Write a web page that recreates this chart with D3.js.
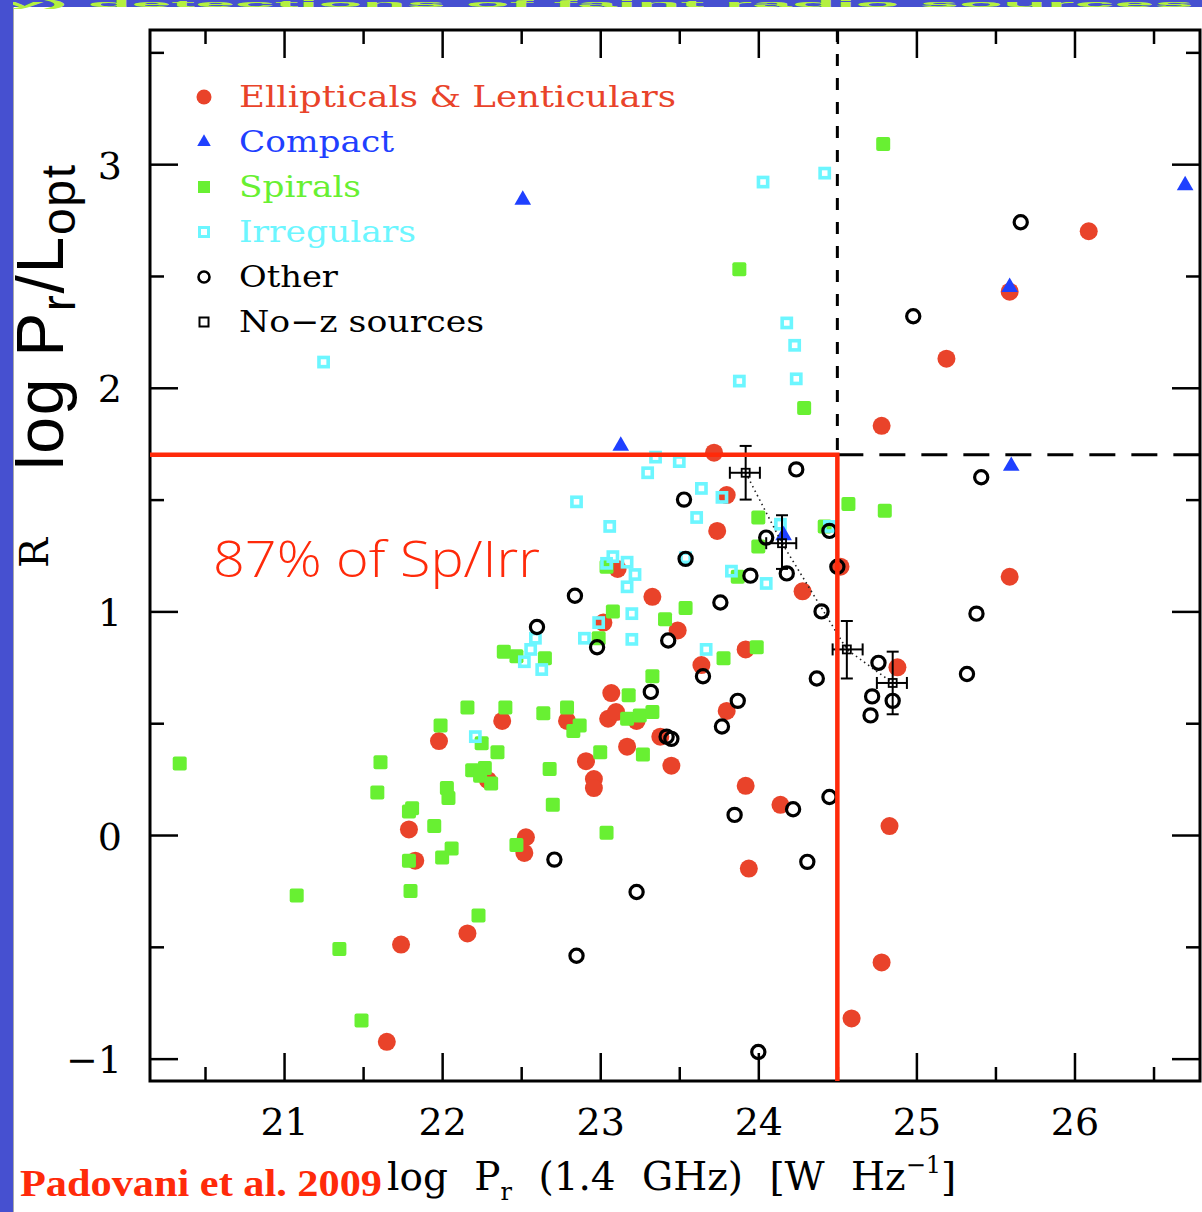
<!DOCTYPE html>
<html><head><meta charset="utf-8">
<script src="https://cdn.jsdelivr.net/npm/d3@7/dist/d3.min.js"></script>
<style>body{margin:0;background:#fff;overflow:hidden}svg{display:block}</style>
</head><body>
<svg id="chart" width="1202" height="1212"></svg>
<script>
// ---------- data ----------
const xMajorTicks = [21, 22, 23, 24, 25, 26];
const xMinorTicks = [20.5, 21.5, 22.5, 23.5, 24.5, 25.5, 26.5];
const yMajorTicks = [-1, 0, 1, 2, 3];
const yMinorTicks = [-0.5, 0.5, 1.5, 2.5, 3.5];
const legendNames = ["Ellipticals & Lenticulars", "Compact", "Spirals", "Irregulars", "Other", "No\u2212z sources"];

const ellipticals = [[26.09,2.70],[25.59,2.43],[25.19,2.13],[24.78,1.83],[23.72,1.71],[23.80,1.52],[23.74,1.36],[23.11,1.19],[24.52,1.20],[25.59,1.155],[24.28,1.09],[23.33,1.065],[23.02,0.95],[23.49,0.915],[23.92,0.83],[23.64,0.76],[24.88,0.75],[23.07,0.635],[23.80,0.555],[22.38,0.51],[22.79,0.51],[23.05,0.52],[23.10,0.55],[23.23,0.51],[23.38,0.44],[21.98,0.42],[23.17,0.395],[22.91,0.33],[23.45,0.31],[22.29,0.245],[22.96,0.25],[22.96,0.21],[23.92,0.22],[24.14,0.135],[24.83,0.04],[21.79,0.025],[22.53,-0.01],[22.52,-0.08],[21.83,-0.115],[23.94,-0.15],[22.16,-0.44],[21.74,-0.49],[24.78,-0.57],[24.59,-0.82],[21.65,-0.925]];

const compact = [[22.51,2.84],[26.70,2.905],[25.59,2.45],[23.13,1.74],[24.16,1.34],[25.60,1.65]];

const spirals = [[24.79,3.09],[23.88,2.53],[24.29,1.91],[24.57,1.48],[24.80,1.45],[24.00,1.42],[24.42,1.38],[24.00,1.29],[23.87,1.155],[23.04,1.20],[23.08,1.00],[23.54,1.015],[23.41,0.965],[22.99,0.88],[23.99,0.84],[23.78,0.79],[22.39,0.82],[22.47,0.80],[22.65,0.79],[23.33,0.71],[23.18,0.625],[22.16,0.57],[22.40,0.57],[22.64,0.545],[22.79,0.57],[22.87,0.49],[22.83,0.465],[23.17,0.52],[23.25,0.535],[23.33,0.55],[21.99,0.49],[22.25,0.41],[22.35,0.37],[23.00,0.37],[23.27,0.36],[20.34,0.32],[21.61,0.325],[22.19,0.29],[22.27,0.30],[22.24,0.265],[22.31,0.23],[22.68,0.295],[22.03,0.21],[22.04,0.165],[21.59,0.19],[21.81,0.12],[21.79,0.105],[21.95,0.04],[22.70,0.135],[23.04,0.01],[22.47,-0.045],[22.06,-0.06],[22.00,-0.10],[21.79,-0.115],[21.80,-0.25],[21.08,-0.27],[22.23,-0.36],[21.35,-0.51],[21.49,-0.83]];

const irregulars = [[24.42,2.96],[24.03,2.92],[24.18,2.29],[24.23,2.19],[21.25,2.115],[23.88,2.03],[24.24,2.04],[23.35,1.69],[23.50,1.67],[23.30,1.62],[23.64,1.55],[23.77,1.51],[22.85,1.49],[23.61,1.42],[23.06,1.38],[24.14,1.39],[24.45,1.38],[23.54,1.24],[23.04,1.215],[23.08,1.245],[23.17,1.22],[23.22,1.165],[23.17,1.11],[23.83,1.18],[24.05,1.125],[23.20,0.99],[22.59,0.88],[22.56,0.83],[22.52,0.775],[22.63,0.74],[22.99,0.95],[22.90,0.88],[23.20,0.875],[23.67,0.83],[22.21,0.44]];

const others = [[25.66,2.74],[24.98,2.32],[25.41,1.60],[24.24,1.635],[23.53,1.50],[24.05,1.33],[24.45,1.36],[24.50,1.20],[23.54,1.235],[23.95,1.16],[24.18,1.17],[24.40,1.00],[25.38,0.99],[22.84,1.07],[23.76,1.04],[22.60,0.93],[22.98,0.84],[23.43,0.87],[24.37,0.70],[23.65,0.71],[23.32,0.64],[23.87,0.60],[23.77,0.485],[23.42,0.44],[23.45,0.43],[24.76,0.77],[25.32,0.72],[24.72,0.62],[24.85,0.60],[24.71,0.535],[24.45,0.17],[24.22,0.115],[23.85,0.09],[24.31,-0.12],[22.71,-0.11],[23.23,-0.255],[22.85,-0.54],[24.00,-0.97]];

// no-z sources: x, y, xLow, xHigh, yLow, yHigh
const noZ = [[23.92,1.62,23.82,24.01,1.50,1.74],[24.15,1.305,24.05,24.24,1.19,1.43],[24.56,0.83,24.47,24.66,0.70,0.957],[24.85,0.68,24.75,24.94,0.54,0.82]];

const limitX = 24.5;
const limitY = 1.7;
const fractionNote = "87% of Sp/Irr";
const citation = "Padovani et al. 2009";
const slideTitleFragment = "y) detections of faint radio sources";

// ---------- drawing ----------
const svg = d3.select("#chart");
const RED = "#e9432a", BLUE = "#1f40ff", GREEN = "#68f032", CYAN = "#6cf6ff";
const LINE_RED = "#ff2a0a";

// slide background pieces
svg.append("rect").attr("x",0).attr("y",0).attr("width",1202).attr("height",1212).attr("fill","#fff");
svg.append("rect").attr("x",0).attr("y",0).attr("width",1202).attr("height",7).attr("fill","#4650d0");
svg.append("text").attr("x",4).attr("y",6.5)
  .attr("font-family","Liberation Sans, Arial, sans-serif").attr("font-weight","bold").attr("font-size",8.5)
  .attr("fill","#b4f040").attr("textLength",1190).attr("lengthAdjust","spacingAndGlyphs").text(slideTitleFragment);
svg.append("rect").attr("x",0).attr("y",0).attr("width",13).attr("height",1212).attr("fill","#4650d0");
svg.append("line").attr("x1",13.5).attr("x2",13.5).attr("y1",7).attr("y2",1212).attr("stroke","#aaa").attr("stroke-width",1);

const x = d3.scaleLinear().domain([20.152, 26.794]).range([150, 1200]);
const y = d3.scaleLinear().domain([-1.1, 3.6]).range([1081, 30]);

const SERIF = "DejaVu Serif, serif";

function styleAxis(g) {
  g.select(".domain").remove();
  g.selectAll(".tick line").attr("stroke","#000").attr("stroke-width",2.5);
  g.selectAll(".tick text").attr("font-family",SERIF).attr("font-size",38).attr("fill","#000");
}
// bottom
svg.append("g").attr("transform","translate(0,1081)")
  .call(d3.axisBottom(x).tickValues(xMajorTicks).tickSizeInner(-28).tickSizeOuter(0).tickPadding(27).tickFormat(d3.format("d")))
  .call(styleAxis);
svg.append("g").attr("transform","translate(0,1081)")
  .call(d3.axisBottom(x).tickValues(xMinorTicks).tickSizeInner(-14).tickSizeOuter(0).tickFormat(""))
  .call(styleAxis);
// top
svg.append("g").attr("transform","translate(0,30)")
  .call(d3.axisTop(x).tickValues(xMajorTicks).tickSizeInner(-28).tickSizeOuter(0).tickFormat(""))
  .call(styleAxis);
svg.append("g").attr("transform","translate(0,30)")
  .call(d3.axisTop(x).tickValues(xMinorTicks).tickSizeInner(-14).tickSizeOuter(0).tickFormat(""))
  .call(styleAxis);
// left
const yl = svg.append("g").attr("transform","translate(150,0)")
  .call(d3.axisLeft(y).tickValues(yMajorTicks).tickSizeInner(-28).tickSizeOuter(0).tickPadding(28).tickFormat(d3.format("d")))
  .call(styleAxis);
yl.selectAll(".tick text").attr("dy","0.37em");
svg.append("g").attr("transform","translate(150,0)")
  .call(d3.axisLeft(y).tickValues(yMinorTicks).tickSizeInner(-14).tickSizeOuter(0).tickFormat(""))
  .call(styleAxis);
// right
svg.append("g").attr("transform","translate(1200,0)")
  .call(d3.axisRight(y).tickValues(yMajorTicks).tickSizeInner(-28).tickSizeOuter(0).tickFormat(""))
  .call(styleAxis);
svg.append("g").attr("transform","translate(1200,0)")
  .call(d3.axisRight(y).tickValues(yMinorTicks).tickSizeInner(-14).tickSizeOuter(0).tickFormat(""))
  .call(styleAxis);

// frame
svg.append("rect").attr("x",x.range()[0]).attr("y",y.range()[1])
  .attr("width",x.range()[1]-x.range()[0]).attr("height",y.range()[0]-y.range()[1])
  .attr("fill","none").attr("stroke","#000").attr("stroke-width",3);

// points
const pts = svg.append("g");
pts.selectAll("circle.ell").data(ellipticals).join("circle").attr("class","ell")
  .attr("cx",d=>x(d[0])).attr("cy",d=>y(d[1])).attr("r",9).attr("fill",RED);
pts.selectAll("rect.sp").data(spirals).join("rect").attr("class","sp")
  .attr("x",d=>x(d[0])-7).attr("y",d=>y(d[1])-7).attr("width",14).attr("height",14).attr("rx",2).attr("fill",GREEN);
pts.selectAll("rect.irr").data(irregulars).join("rect").attr("class","irr")
  .attr("x",d=>x(d[0])-4.6).attr("y",d=>y(d[1])-4.6).attr("width",9.2).attr("height",9.2)
  .attr("fill","none").attr("stroke",CYAN).attr("stroke-width",3.6);
pts.selectAll("circle.oth").data(others).join("circle").attr("class","oth")
  .attr("cx",d=>x(d[0])).attr("cy",d=>y(d[1])).attr("r",6.6).attr("fill","none").attr("stroke","#000").attr("stroke-width",3.2);
const tri = d3.symbol().type(d3.symbolTriangle).size(120);
pts.selectAll("path.cmp").data(compact).join("path").attr("class","cmp")
  .attr("transform",d=>`translate(${x(d[0])},${y(d[1])})`).attr("d",tri).attr("fill",BLUE);

// no-z sources with error bars and dotted connection
const line = d3.line().x(d=>x(d[0])).y(d=>y(d[1]));
svg.append("path").attr("d",line(noZ)).attr("fill","none").attr("stroke","#222").attr("stroke-width",1.6).attr("stroke-dasharray","1.5,3.5");
const nz = svg.append("g").attr("stroke","#000").attr("stroke-width",2).attr("fill","none");
noZ.forEach(d => {
  const cx = x(d[0]), cy = y(d[1]);
  nz.append("line").attr("x1",cx).attr("x2",cx).attr("y1",y(d[4])).attr("y2",y(d[5]));
  nz.append("line").attr("x1",cx-6).attr("x2",cx+6).attr("y1",y(d[4])).attr("y2",y(d[4]));
  nz.append("line").attr("x1",cx-6).attr("x2",cx+6).attr("y1",y(d[5])).attr("y2",y(d[5]));
  nz.append("line").attr("x1",x(d[2])).attr("x2",x(d[3])).attr("y1",cy).attr("y2",cy);
  nz.append("line").attr("x1",x(d[2])).attr("x2",x(d[2])).attr("y1",cy-6).attr("y2",cy+6);
  nz.append("line").attr("x1",x(d[3])).attr("x2",x(d[3])).attr("y1",cy-6).attr("y2",cy+6);
  nz.append("rect").attr("x",cx-4).attr("y",cy-4).attr("width",8).attr("height",8).attr("stroke-width",1.8);
});

// limit lines
svg.append("line").attr("x1",x(limitX)).attr("x2",x(limitX)).attr("y1",y.range()[1]).attr("y2",y(limitY))
  .attr("stroke","#000").attr("stroke-width",3).attr("stroke-dasharray","12,12");
svg.append("line").attr("x1",x(limitX)).attr("x2",x.range()[1]).attr("y1",y(limitY)).attr("y2",y(limitY))
  .attr("stroke","#000").attr("stroke-width",3).attr("stroke-dasharray","26,16");
svg.append("polyline").attr("points",`${x.range()[0]},${y(limitY)} ${x(limitX)},${y(limitY)} ${x(limitX)},${y.range()[0]}`)
  .attr("fill","none").attr("stroke",LINE_RED).attr("stroke-width",4.5);

// legend
const legColors = [RED, BLUE, GREEN, CYAN, "#000", "#000"];
const legLens = [437, 155, 122, 177, 99, 245];
const legY0 = 97, legDy = 45, legSymX = 204;
const lg = svg.append("g");
legendNames.forEach((name,i) => {
  const cy = legY0 + i*legDy;
  if (i===0) lg.append("circle").attr("cx",legSymX).attr("cy",cy).attr("r",7.5).attr("fill",RED);
  if (i===1) lg.append("path").attr("transform",`translate(${legSymX},${cy})`).attr("d",d3.symbol().type(d3.symbolTriangle).size(80)()).attr("fill",BLUE);
  if (i===2) lg.append("rect").attr("x",legSymX-6).attr("y",cy-6).attr("width",12).attr("height",12).attr("fill",GREEN);
  if (i===3) lg.append("rect").attr("x",legSymX-4.5).attr("y",cy-4.5).attr("width",9).attr("height",9).attr("fill","none").attr("stroke",CYAN).attr("stroke-width",3);
  if (i===4) lg.append("circle").attr("cx",legSymX).attr("cy",cy).attr("r",5.5).attr("fill","none").attr("stroke","#000").attr("stroke-width",2.6);
  if (i===5) lg.append("rect").attr("x",legSymX-4.5).attr("y",cy-4.5).attr("width",9).attr("height",9).attr("fill","none").attr("stroke","#000").attr("stroke-width",2);
  lg.append("text").attr("x",239).attr("y",cy+10).attr("font-family",SERIF).attr("font-size",30)
    .attr("fill",legColors[i]).attr("textLength",legLens[i]).attr("lengthAdjust","spacingAndGlyphs").text(name);
});

// annotation
svg.append("text").attr("x",213).attr("y",577).attr("font-family","Open Sans, Liberation Sans, sans-serif")
  .attr("font-weight",300).attr("font-size",50).attr("fill",LINE_RED)
  .attr("textLength",327).attr("lengthAdjust","spacingAndGlyphs").text(fractionNote);

// y axis titles
svg.append("text").attr("transform","translate(48,568) rotate(-90)").attr("font-family",SERIF)
  .attr("font-size",40).attr("fill","#000").text("R");
const yt = svg.append("text").attr("transform","translate(63,470) rotate(-90)")
  .attr("font-family","Liberation Sans, Arial, sans-serif").attr("font-size",66).attr("fill","#000")
  .attr("textLength",305).attr("lengthAdjust","spacing");
yt.append("tspan").text("log P");
yt.append("tspan").attr("font-size",48).attr("dy",12).text("r");
yt.append("tspan").attr("dy",-12).text("/L");
yt.append("tspan").attr("font-size",48).attr("dy",12).text("opt");

// x axis title
const xt = svg.append("text").attr("x",387).attr("y",1190).attr("font-family",SERIF).attr("font-size",39).attr("fill","#000")
  .attr("word-spacing",14);
xt.append("tspan").text("log P");
xt.append("tspan").attr("font-size",24).attr("dy",10).text("r");
xt.append("tspan").attr("dy",-10).text(" (1.4 GHz) [W Hz");
xt.append("tspan").attr("font-size",24).attr("dy",-17).text("\u22121");
xt.append("tspan").attr("dy",17).text("]");

svg.append("text").attr("x",20).attr("y",1196).attr("font-family","Liberation Serif, Times New Roman, serif")
  .attr("font-weight","bold").attr("font-size",38).attr("fill","#ff2a0a")
  .attr("textLength",362).attr("lengthAdjust","spacingAndGlyphs").text(citation);
</script>
</body></html>
